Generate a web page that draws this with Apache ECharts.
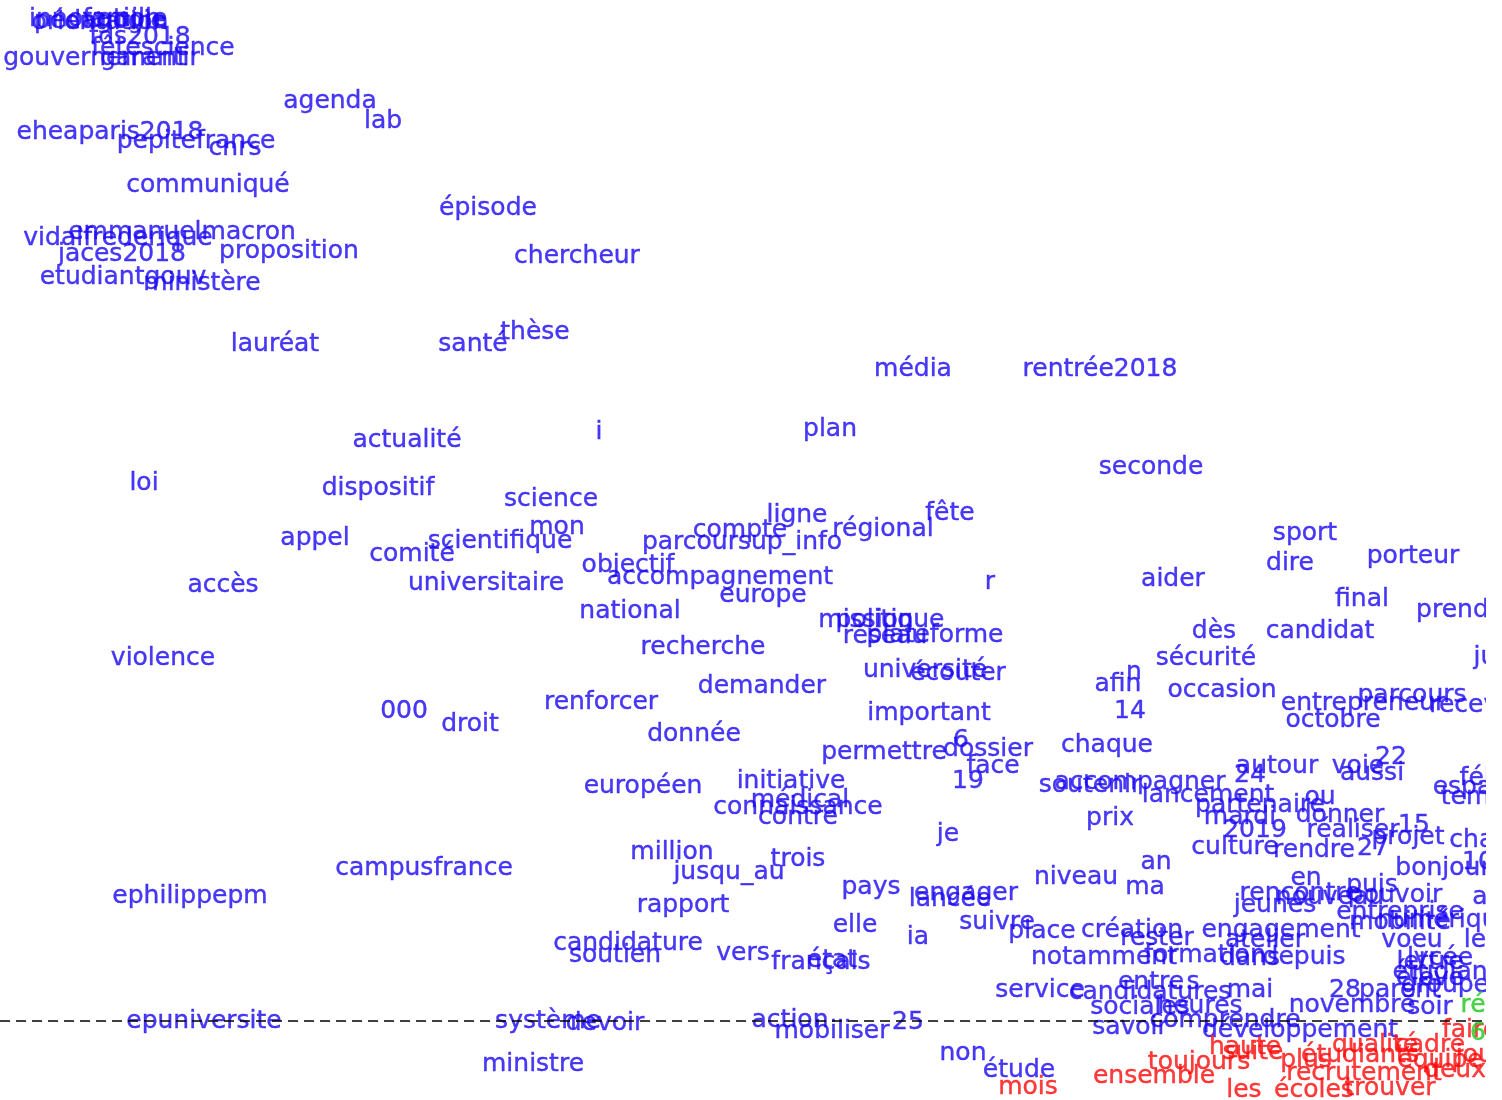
<!DOCTYPE html>
<html>
<head>
<meta charset="utf-8">
<script src="https://cdn.jsdelivr.net/npm/echarts@6/dist/echarts.min.js"></script>
<style>
  html, body { margin: 0; padding: 0; background: #fff; }
  #chart { width: 1502px; height: 1100px; }
</style>
</head>
<body>
<div id="chart"></div>
<script>
// mots du plan factoriel (dim1 = axe horizontal, dim2 = axe vertical)
var blueWords = [
  'innovation','pédagogie','famille','orientation','fds2018','fêtescience','gouvernement','garantir','agenda','lab',
  'eheaparis2018','pepitefrance','cnrs','communiqué','épisode','chercheur','vidalfrederique','emmanuelmacron','jaces2018','proposition',
  'etudiantgouv','ministère','lauréat','santé','thèse','média','rentrée2018','actualité','i','plan',
  'seconde','loi','dispositif','science','ligne','fête','régional','compte','parcoursup_info','mon',
  'scientifique','appel','comité','objectif','accompagnement','europe','national','r','universitaire','accès',
  'mission','politique','réseau','plateforme','recherche','violence','université','écouter','demander','renforcer',
  'important','000','droit','donnée','permettre','dossier','6','face','19','chaque',
  'européen','initiative','connaissance','médical','contre','je','million','jusqu_au','trois','pays',
  'engager','lancée','campusfrance','ephilippepm','rapport','elle','ia','suivre','place','candidature',
  'soutien','vers','français','état','epuniversite','système','devoir','action','mobiliser','25',
  'ministre','non','étude','niveau','an','ma','prix','création','engagement','rester',
  'atelier','notamment','formation','dans','depuis','service','entre','s','mai','candidatures',
  'sociales','heures','novembre','28','savoir','comprendre','développement','afin','n','14',
  'sécurité','occasion','dès','candidat','final','prendre','sport','dire','porteur','aider',
  'juillet','entrepreneur','parcours','recevoir','octobre','autour','voie','22','aussi','félicitations',
  'espace','temps','soutenir','accompagner','24','lancement','partenaire','ou','mardi','donner',
  '2019','réaliser','15','culture','rendre','27','projet','challenge','bonjour','10',
  'en','puis','rencontre','nouveau','pouvoir','jeunes','a','entreprise','mobilité','numérique',
  'voeu','le','lycée','lettre','étudiant','élève','parent','groupe','soir'
];
var blueDim1 = [
  -1.505,-1.500,-1.475,-1.500,-1.460,-1.437,-1.505,-1.450,-1.270,-1.217,
  -1.490,-1.404,-1.365,-1.392,-1.112,-1.023,-1.482,-1.418,-1.478,-1.311,
  -1.477,-1.398,-1.325,-1.127,-1.065,-0.687,-0.500,-1.193,-1.001,-0.770,
  -0.449,-1.456,-1.222,-1.049,-0.803,-0.650,-0.717,-0.860,-0.858,-1.043,
  -1.100,-1.285,-1.188,-0.972,-0.880,-0.837,-0.970,-0.610,-1.114,-1.377,
  -0.734,-0.710,-0.715,-0.665,-0.897,-1.437,-0.675,-0.642,-0.838,-0.999,
  -0.671,-1.196,-1.130,-0.906,-0.716,-0.612,-0.639,-0.607,-0.632,-0.493,
  -0.957,-0.809,-0.802,-0.800,-0.802,-0.652,-0.928,-0.871,-0.802,-0.729,
  -0.634,-0.650,-1.176,-1.410,-0.917,-0.745,-0.682,-0.603,-0.558,-0.972,
  -0.985,-0.857,-0.779,-0.768,-1.396,-1.052,-0.995,-0.810,-0.768,-0.692,
  -1.067,-0.637,-0.581,-0.524,-0.444,-0.455,-0.490,-0.468,-0.319,-0.443,
  -0.335,-0.496,-0.395,-0.350,-0.296,-0.560,-0.449,-0.407,-0.350,-0.450,
  -0.460,-0.400,-0.248,-0.255,-0.470,-0.375,-0.300,-0.482,-0.466,-0.470,
  -0.394,-0.378,-0.386,-0.280,-0.238,-0.135,-0.295,-0.310,-0.187,-0.427,
  -0.092,-0.237,-0.188,-0.120,-0.267,-0.323,-0.242,-0.209,-0.228,-0.068,
  -0.123,-0.120,-0.510,-0.460,-0.350,-0.392,-0.340,-0.280,-0.360,-0.260,
  -0.345,-0.247,-0.186,-0.365,-0.286,-0.227,-0.192,-0.090,-0.157,-0.122,
  -0.294,-0.228,-0.300,-0.270,-0.205,-0.325,-0.120,-0.200,-0.200,-0.155,
  -0.188,-0.125,-0.160,-0.170,-0.155,-0.170,-0.200,-0.155,-0.170
];
var blueDim2 = [
  1.002,1.000,1.002,0.999,0.984,0.973,0.963,0.963,0.920,0.900,
  0.889,0.880,0.873,0.836,0.813,0.765,0.783,0.789,0.767,0.770,
  0.744,0.738,0.677,0.677,0.689,0.652,0.652,0.581,0.589,0.592,
  0.554,0.538,0.533,0.522,0.506,0.508,0.492,0.491,0.479,0.494,
  0.480,0.483,0.467,0.456,0.444,0.426,0.410,0.439,0.438,0.436,
  0.401,0.401,0.385,0.386,0.374,0.363,0.351,0.348,0.335,0.319,
  0.308,0.310,0.297,0.287,0.269,0.272,0.281,0.255,0.240,0.276,
  0.235,0.240,0.214,0.221,0.204,0.187,0.169,0.149,0.162,0.134,
  0.128,0.122,0.153,0.125,0.116,0.096,0.084,0.099,0.090,0.078,
  0.066,0.068,0.059,0.061,0.000,0.000,-0.002,0.001,-0.010,-0.001,
  -0.043,-0.032,-0.049,0.144,0.159,0.134,0.203,0.091,0.091,0.083,
  0.081,0.064,0.066,0.063,0.064,0.031,0.039,0.039,0.031,0.029,
  0.014,0.015,0.016,0.031,-0.006,0.001,-0.009,0.337,0.349,0.310,
  0.363,0.331,0.390,0.390,0.422,0.411,0.488,0.458,0.465,0.442,
  0.364,0.318,0.326,0.316,0.301,0.255,0.255,0.264,0.248,0.243,
  0.234,0.224,0.236,0.239,0.246,0.226,0.216,0.224,0.204,0.206,
  0.191,0.191,0.196,0.174,0.171,0.173,0.184,0.181,0.153,0.159,
  0.143,0.136,0.128,0.124,0.126,0.116,0.124,0.109,0.099,0.101,
  0.081,0.081,0.063,0.059,0.049,0.043,0.031,0.036,0.014
];

var redWords = ['mois','ensemble','toujours','suite','haute','plus','étudiants','recrutement','les_écoles','trouver','deux','faire','cadre','qualité','équipe','jour'];
var redDim1 = [-0.572,-0.446,-0.401,-0.347,-0.355,-0.294,-0.240,-0.236,-0.310,-0.210,-0.145,-0.130,-0.170,-0.225,-0.160,-0.120];
var redDim2 = [-0.066,-0.055,-0.041,-0.031,-0.026,-0.039,-0.034,-0.052,-0.069,-0.067,-0.049,-0.009,-0.024,-0.024,-0.039,-0.034];

var greenWords = ['réforme','6'];
var greenDim1 = [-0.090,-0.122];
var greenDim2 = [0.016,-0.012];

(function () {
  var chart = echarts.init(document.getElementById('chart'));

  function pts(words, d1, d2) {
    return words.map(function (w, i) { return { name: w, value: [d1[i], d2[i]] }; });
  }

  function motSerie(words, d1, d2, couleur) {
    return {
      type: 'scatter',
      symbolSize: 0,
      clip: false,
      silent: true,
      data: pts(words, d1, d2),
      label: {
        show: true,
        position: 'inside',
        formatter: '{b}',
        color: couleur,
        textBorderColor: couleur,
        textBorderWidth: 0.4,
        fontFamily: 'DejaVu Sans',
        fontSize: 25,
        verticalAlign: 'middle',
        align: 'center'
      },
      labelLayout: { hideOverlap: false }
    };
  }

  var series = [
    motSerie(blueWords, blueDim1, blueDim2, '#1a08f5'),
    motSerie(redWords, redDim1, redDim2, '#ff0a0a'),
    motSerie(greenWords, greenDim1, greenDim2, '#1ec81e')
  ];
  // ligne pointillée dim2 = 0
  series[0].markLine = {
    silent: true,
    symbol: ['none', 'none'],
    label: { show: false },
    lineStyle: { color: '#000', type: [10, 6], width: 1.5 },
    data: [{ yAxis: 0 }]
  };

  var option = {
    animation: false,
    backgroundColor: '#fff',
    grid: { left: 0, top: 0, right: 0, bottom: 0 },
    xAxis: { type: 'value', min: -1.6, max: -0.098, show: false, splitLine: { show: false } },
    yAxis: { type: 'value', min: -0.079, max: 1.021, show: false, splitLine: { show: false } },
    graphic: [{
      type: 'rect', z: 100,
      shape: { x: 1486, y: 0, width: 30, height: 1100 },
      style: { fill: '#fff' }
    }],
    series: series
  };
  chart.setOption(option);
})();
</script>
</body>
</html>
